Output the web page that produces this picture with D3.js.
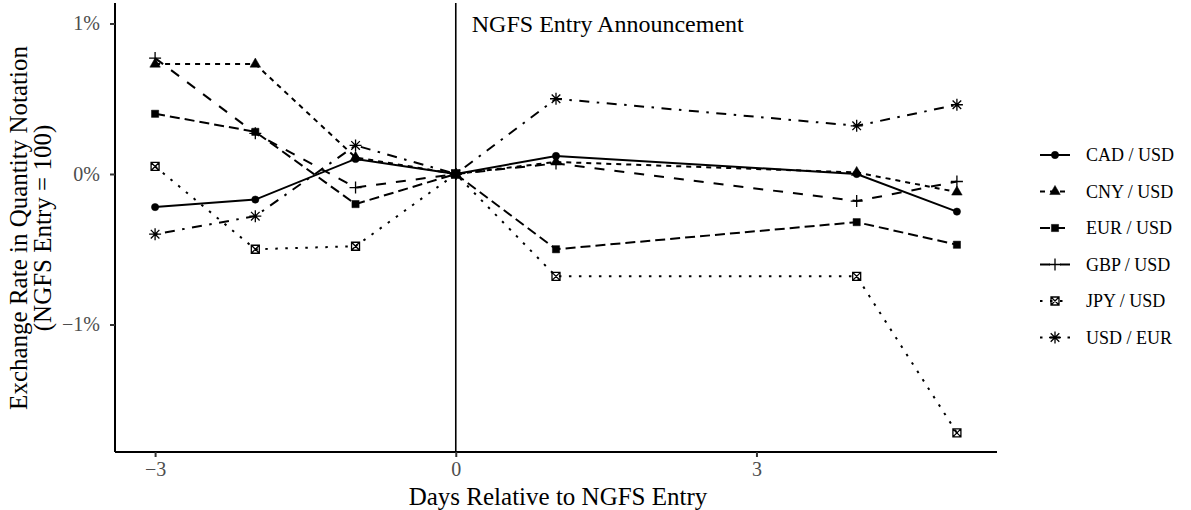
<!DOCTYPE html>
<html>
<head>
<meta charset="utf-8">
<script src="https://cdn.jsdelivr.net/npm/d3@7"></script>
<style>
  body { margin: 0; background: #fff; }
  svg { display: block; }
</style>
</head>
<body>
<svg id="chart" width="1191" height="510"></svg>
<script>
// data
var days = [-3, -2, -1, 0, 1, 4, 5];
var seriesNames = ["CAD / USD", "CNY / USD", "EUR / USD", "GBP / USD", "JPY / USD", "USD / EUR"];
var cadUsd = [-0.22, -0.17, 0.10, 0, 0.12, 0, -0.25];
var cnyUsd = [0.73, 0.73, 0.11, 0, 0.08, 0.01, -0.12];
var eurUsd = [0.40, 0.28, -0.20, 0, -0.50, -0.32, -0.47];
var gbpUsd = [0.77, 0.27, -0.09, 0, 0.07, -0.18, -0.05];
var jpyUsd = [0.05, -0.50, -0.48, 0, -0.68, -0.68, -1.72];
var usdEur = [-0.40, -0.28, 0.19, 0, 0.50, 0.32, 0.46];
var xTicks = [-3, 0, 3];
var yTicks = [-1, 0, 1];

var allValues = [cadUsd, cnyUsd, eurUsd, gbpUsd, jpyUsd, usdEur];
var dashes = ["none", "5,5", "10,5", "10,10", "2.5,7.5", "2.5,7.5,10,7.5"];
var shapes = ["circle", "triangle", "square", "plus", "boxx", "star"];

var svg = d3.select("#chart");
var font = "'Liberation Serif', 'Times New Roman', serif";

var x = d3.scaleLinear().domain([-3.4, 5.4]).range([115, 997]);
var y = d3.scaleLinear().domain([-1.847, 1.136]).range([452, 3]);

// axes
var xAxis = svg.append("g")
    .attr("transform", "translate(0,452)")
    .call(d3.axisBottom(x).tickValues(xTicks).tickSize(5).tickPadding(5)
        .tickFormat(function(d) { return d < 0 ? "\u2212" + Math.abs(d) : d; }));
var yAxis = svg.append("g")
    .attr("transform", "translate(115,0)")
    .call(d3.axisLeft(y).tickValues(yTicks).tickSize(5).tickPadding(10)
        .tickFormat(function(d) { return (d < 0 ? "\u2212" + Math.abs(d) : d) + "%"; }));

[xAxis, yAxis].forEach(function(a) {
    a.select(".domain").attr("stroke", "#000").attr("stroke-width", 2);
    a.selectAll(".tick line").attr("stroke", "#333").attr("stroke-width", 2);
    a.selectAll(".tick text").attr("fill", "#4d4d4d")
        .attr("font-family", font).attr("font-size", 20);
});
xAxis.select(".domain").attr("d", "M115,0H997");
yAxis.select(".domain").attr("d", "M0,3V452");

// event line
svg.append("line")
    .attr("x1", x(0)).attr("x2", x(0))
    .attr("y1", 3).attr("y2", 452)
    .attr("stroke", "#000").attr("stroke-width", 1.6);

svg.append("text")
    .attr("x", x(0) + 16).attr("y", 32)
    .attr("font-family", font).attr("font-size", 24)
    .text("NGFS Entry Announcement");

function markerPath(shape) {
    if (shape === "circle") return d3.symbol().type(d3.symbolCircle).size(42)();
    if (shape === "triangle") return d3.symbol().type(d3.symbolTriangle).size(48)();
    if (shape === "square") return d3.symbol().type(d3.symbolSquare).size(52)();
    if (shape === "plus") return "M-6,0H6M0,-6V6";
    if (shape === "boxx") return "M-4,-4H4V4H-4ZM-4,-4L4,4M4,-4L-4,4";
    return "M-6,0H6M0,-6V6M-4.3,-4.3L4.3,4.3M4.3,-4.3L-4.3,4.3";
}

function drawMarker(g, shape, px, py) {
    var filled = (shape === "circle" || shape === "triangle" || shape === "square");
    g.append("path")
        .attr("transform", "translate(" + px + "," + py + ")")
        .attr("d", markerPath(shape))
        .attr("fill", filled ? "#000" : "none")
        .attr("stroke", "#000")
        .attr("stroke-width", filled ? 0.5 : 1.3);
}

var line = d3.line()
    .x(function(d) { return x(d[0]); })
    .y(function(d) { return y(d[1]); });

var plot = svg.append("g");
allValues.forEach(function(vals, i) {
    var pts = days.map(function(d, j) { return [d, vals[j]]; });
    plot.append("path")
        .attr("d", line(pts))
        .attr("fill", "none")
        .attr("stroke", "#000")
        .attr("stroke-width", 2)
        .attr("stroke-dasharray", dashes[i]);
});
allValues.forEach(function(vals, i) {
    days.forEach(function(d, j) {
        drawMarker(plot, shapes[i], x(d), y(vals[j]));
    });
});

// legend
var legend = svg.append("g");
seriesNames.forEach(function(name, i) {
    var ly = 155 + i * 36.5;
    legend.append("line")
        .attr("x1", 1040).attr("x2", 1070)
        .attr("y1", ly).attr("y2", ly)
        .attr("stroke", "#000").attr("stroke-width", 2)
        .attr("stroke-dasharray", dashes[i]);
    drawMarker(legend, shapes[i], 1055, ly);
    legend.append("text")
        .attr("x", 1086).attr("y", ly + 6)
        .attr("font-family", font).attr("font-size", 18)
        .text(name);
});

// axis titles
svg.append("text")
    .attr("x", 558).attr("y", 505)
    .attr("text-anchor", "middle")
    .attr("font-family", font).attr("font-size", 25)
    .text("Days Relative to NGFS Entry");

var yt = svg.append("text")
    .attr("transform", "translate(27,228) rotate(-90)")
    .attr("text-anchor", "middle")
    .attr("font-family", font).attr("font-size", 25);
yt.append("tspan").attr("x", 0).attr("y", 0).text("Exchange Rate in Quantity Notation");
yt.append("tspan").attr("x", 0).attr("y", 24).text("(NGFS Entry = 100)");
</script>
</body>
</html>
